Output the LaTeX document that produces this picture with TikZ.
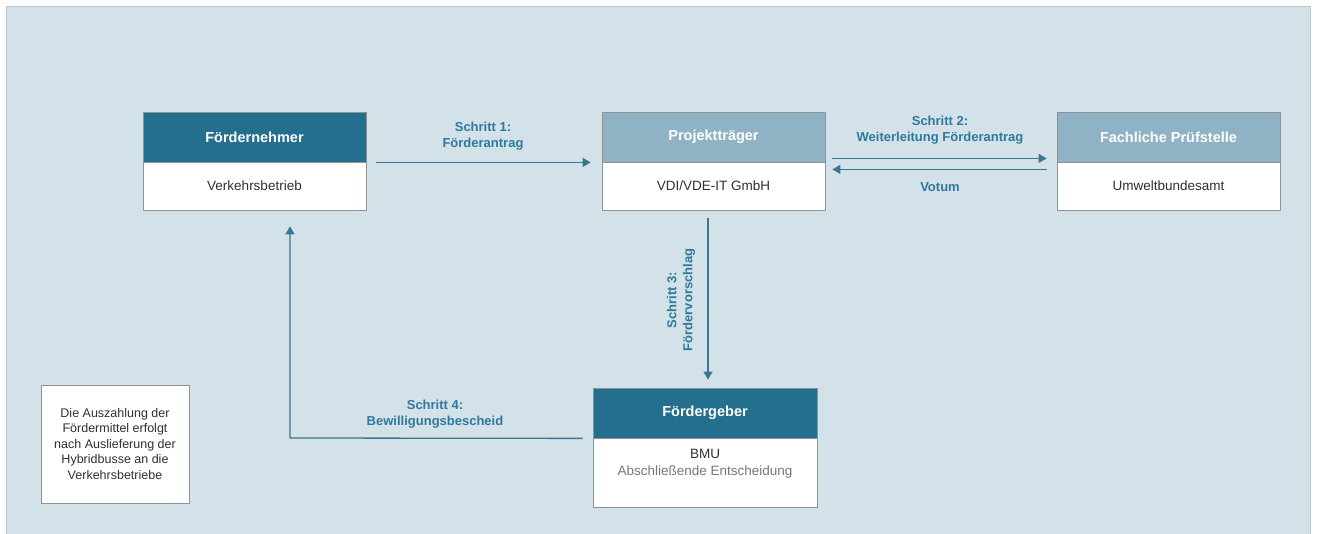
\documentclass[tikz,border=0pt]{standalone}
\usepackage{fontspec}
\setmainfont{Liberation Sans}
\usetikzlibrary{arrows.meta,calc}
\definecolor{bg}{HTML}{D3E1E8}
\definecolor{panelborder}{HTML}{BCC7CC}
\definecolor{darkhead}{HTML}{246F8E}
\definecolor{lighthead}{HTML}{8FB3C4}
\definecolor{arrowcol}{HTML}{3A7591}
\definecolor{lblcol}{HTML}{2F7A9C}
\definecolor{txtcol}{HTML}{303030}
\definecolor{greytxt}{HTML}{777777}
\definecolor{boxborder}{HTML}{8E9396}
\tikzset{
  x=1pt, y=-1pt,
  headdark/.style={draw=boxborder, line width=0.8pt, fill=darkhead, text=white,
    minimum height=50pt, inner sep=0pt, font=\fontsize{14.5}{16}\selectfont\bfseries},
  headlight/.style={headdark, fill=lighthead},
  bodybox/.style={draw=boxborder, line width=0.8pt, fill=white, text=txtcol,
    minimum height=48pt, inner sep=0pt, font=\fontsize{13.5}{16}\selectfont},
  flow/.style={draw=arrowcol, line width=1.3pt, -{Triangle[length=8pt,width=9pt]}},
  steplabel/.style={text=lblcol, align=center, inner sep=0pt,
    font=\fontsize{13}{16}\selectfont\bfseries},
  notebox/.style={draw=boxborder, line width=0.8pt, fill=white, text=txtcol, align=center,
    minimum width=148pt, minimum height=118pt, inner sep=0pt,
    font=\fontsize{12.5}{15.5}\selectfont}
}
\begin{document}
\begin{tikzpicture}
\useasboundingbox (0,0) rectangle (1318,534);
\fill[white] (0,0) rectangle (1318,534);
\draw[fill=bg, draw=panelborder, line width=1pt] (6,7) -- (1310,7) -- (1310,540) -- (6,540) -- cycle;

% Fördernehmer
\node[headdark, minimum width=223pt] (fnh) at (254.5,137) {Fördernehmer};
\node[bodybox, minimum width=223pt] (fnb) at (254.5,186) {Verkehrsbetrieb};
% Projektträger
\node[headlight, minimum width=223pt] (pth) at (713.5,137) {Projektträger};
\node[bodybox, minimum width=223pt] (ptb) at (713.5,186) {VDI/VDE-IT GmbH};
% Fachliche Prüfstelle
\node[headlight, minimum width=223pt] (fph) at (1168.5,137) {Fachliche Prüfstelle};
\node[bodybox, minimum width=223pt] (fpb) at (1168.5,186) {Umweltbundesamt};
% Fördergeber
\node[headdark, minimum width=224pt] (fgh) at (705,413) {Fördergeber};
\node[bodybox, minimum width=224pt, minimum height=69pt] (fgb) at (705,472.5) {};
\node[text=txtcol, align=center, inner sep=0pt, font=\fontsize{13.5}{17}\selectfont] (fgt) at (705,463.5)
  {BMU\\{\color{greytxt}Abschließende Entscheidung}};

% Note
\node[notebox] (note) at (115,444) {Die Auszahlung der\\Fördermittel erfolgt\\nach Auslieferung der\\Hybridbusse an die\\Verkehrsbetriebe};

% Step 1
\draw[flow, shorten <=10pt, shorten >=11pt] (fnh.south east) -- (pth.south west);
\node[steplabel] (l1) at (483,136) {Schritt 1:\\Förderantrag};

% Step 2
\draw[flow, shorten <=7pt, shorten >=10pt] ($(pth.south east)+(0,-4)$) -- ($(fph.south west)+(0,-4)$);
\draw[flow, shorten <=10pt, shorten >=7pt] ($(fph.south west)+(0,7)$) -- ($(pth.south east)+(0,7)$);
\node[steplabel] (l2) at (940,130) {Schritt 2:\\Weiterleitung Förderantrag};
\node[steplabel] (l2b) at (940,187) {Votum};

% Step 3
\coordinate (c3) at (708,300);
\draw[flow, shorten <=8pt, shorten >=8pt] (ptb.south -| c3) -- (fgh.north -| c3);
\node[steplabel, rotate=90] (l3) at (681,300) {Schritt 3:\\Fördervorschlag};

% Step 4
\coordinate (c4) at (290,438);
\coordinate (s4) at ($(fgh.south west)+(-10,0)$);
\draw[flow, shorten >=16pt] (s4) -- (c4) -- (fnb.south -| c4);
\node[steplabel] (l4) at (435,414.5) {Schritt 4:\\Bewilligungsbescheid};
\end{tikzpicture}
\end{document}
